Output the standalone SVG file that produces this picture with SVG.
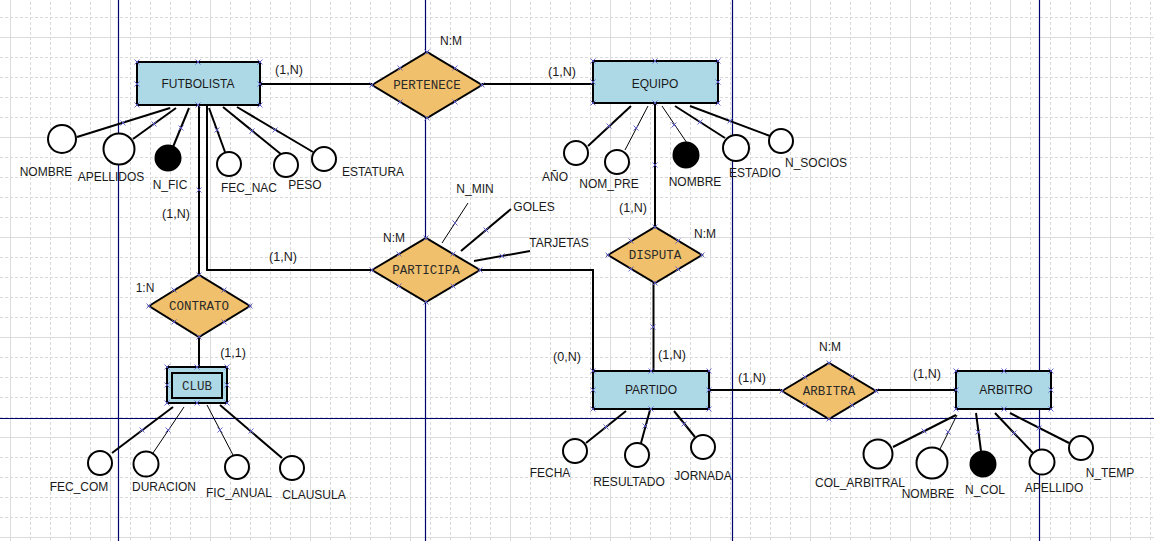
<svg xmlns="http://www.w3.org/2000/svg" xmlns:xlink="http://www.w3.org/1999/xlink" width="1154" height="541" viewBox="0 0 1154 541">
<style>
.ent{fill:#add8e6;stroke:#000;stroke-width:2}
.rel{fill:#f0c06c;stroke:#000;stroke-width:2}
.att{fill:#fff;stroke:#000;stroke-width:2}
.key{fill:#000;stroke:#000;stroke-width:2}
.ln{fill:none;stroke:#000;stroke-width:2}
.thin{fill:none;stroke:#000;stroke-width:1}
.page{stroke:#00006e;stroke-width:1.2;fill:none}
text{font-family:"Liberation Sans",Arial,sans-serif;font-size:12px;fill:#1a1a1a;text-anchor:middle}
.rt{font-family:"Liberation Mono","Courier New",monospace;font-size:12.5px;fill:#2a2a2a}
.card{font-size:12.5px}
.hx{stroke:#5a5ac8;stroke-width:0.9;fill:none}
</style>
<defs>
<pattern id="minor" patternUnits="userSpaceOnUse" x="10" y="17" width="20" height="20">
<path d="M0 0.5 H20 M0.5 0 V20" stroke="#d9d9d9" stroke-width="1" stroke-dasharray="3 2" fill="none"/>
</pattern>
<pattern id="major" patternUnits="userSpaceOnUse" x="10" y="37" width="100" height="100">
<path d="M0 0.5 H100 M0.5 0 V100" stroke="#dcdcdc" stroke-width="1" fill="none"/>
</pattern>
<path id="x" class="hx" d="M-2.5 -2.5 L2.5 2.5 M-2.5 2.5 L2.5 -2.5"/>
</defs>
<rect width="1154" height="541" fill="#fff"/>
<rect width="1154" height="541" fill="url(#minor)"/>
<rect width="1154" height="541" fill="url(#major)"/>
<g id="page-breaks" class="page">
<path d="M118.5 0 V541 M425.5 0 V541 M732.5 0 V541 M1039.5 0 V541 M0 418.5 H1154"/>
</g>

<g id="connectors">
<path class="ln" d="M260 84 H372"/>
<path class="ln" d="M482 84 H593"/>
<path class="ln" d="M199 105 V275"/>
<path class="ln" d="M207 105 V270 H372"/>
<path class="ln" d="M199 337 V367"/>
<path class="ln" d="M480 270 H593 V371"/>
<path class="ln" d="M655 103 V227"/>
<path class="ln" d="M653.5 283 V371"/>
<path class="ln" d="M709 390 H782"/>
<path class="ln" d="M876 390 H956"/>
<!-- FUTBOLISTA attributes -->
<path class="ln" d="M77 137 L170 108"/>
<path class="ln" d="M133 139 L176 108"/>
<path class="ln" d="M173 147 L189 108"/>
<path class="ln" d="M225 152 L209 108"/>
<path class="ln" d="M282 155 L223 107"/>
<path class="ln" d="M313 152 L237 107"/>
<!-- EQUIPO attributes -->
<path class="ln" d="M588 146 L631 106"/>
<path class="thin" d="M625 150 L648 106"/>
<path class="thin" d="M687 143 L662 106"/>
<path class="ln" d="M725 138 L675 106"/>
<path class="ln" d="M770 136 L690 106"/>
<!-- PARTICIPA attributes -->
<path class="thin" d="M442 243 L468 203"/>
<path class="ln" d="M461 251 L511 209"/>
<path class="ln" d="M474 261 L530 251"/>
<!-- CLUB attributes -->
<path class="ln" d="M112 453 L173 407"/>
<path class="thin" d="M153 453 L184 407"/>
<path class="thin" d="M233 455 L207 405"/>
<path class="ln" d="M282 458 L220 405"/>
<!-- PARTIDO attributes -->
<path class="ln" d="M586 443 L626 411"/>
<path class="ln" d="M641 443 L650 410"/>
<path class="ln" d="M695 437 L674 411"/>
<!-- ARBITRO attributes -->
<path class="ln" d="M893 447 L956 415"/>
<path class="thin" d="M940 449 L957 415"/>
<path class="ln" d="M981 451 L976 413"/>
<path class="ln" d="M1033 453 L995 413"/>
<path class="ln" d="M1069 443 L1010 413"/>
</g>

<g id="cardinalities">
<text class="card" x="289" y="74">(1,N)</text>
<text class="card" x="562" y="76">(1,N)</text>
<text x="451" y="45">N:M</text>
<text class="card" x="176" y="218">(1,N)</text>
<text class="card" x="283" y="261">(1,N)</text>
<text x="145" y="292">1:N</text>
<text class="card" x="233" y="357">(1,1)</text>
<text x="394" y="242">N:M</text>
<text class="card" x="567" y="361">(0,N)</text>
<text class="card" x="633" y="212">(1,N)</text>
<text x="705" y="238">N:M</text>
<text class="card" x="672" y="359">(1,N)</text>
<text class="card" x="752" y="382">(1,N)</text>
<text x="830" y="351">N:M</text>
<text class="card" x="927" y="378">(1,N)</text>
</g>

<!-- Entities -->
<g id="futbolista">
<rect class="ent" x="137" y="62" width="123" height="43"/>
<text x="198" y="88">FUTBOLISTA</text>
</g>
<g id="equipo">
<rect class="ent" x="593" y="61" width="125" height="42"/>
<text x="655" y="88">EQUIPO</text>
</g>
<g id="partido">
<rect class="ent" x="593" y="371" width="116" height="38"/>
<text x="651" y="394">PARTIDO</text>
</g>
<g id="arbitro">
<rect class="ent" x="956" y="371" width="95" height="38"/>
<text x="1006" y="394">ARBITRO</text>
</g>
<g id="club">
<rect class="ent" x="167" y="367" width="60" height="36"/>
<rect class="ent" x="172" y="373" width="50" height="25"/>
<text class="rt" x="197" y="390">CLUB</text>
</g>

<!-- Relationships -->
<g id="pertenece">
<polygon class="rel" points="372,85 427,52 482,85 427,118"/>
<text class="rt" x="427" y="89">PERTENECE</text>
</g>
<g id="contrato">
<polygon class="rel" points="149,306 199,275 250,306 199,337"/>
<text class="rt" x="199" y="310">CONTRATO</text>
</g>
<g id="participa">
<polygon class="rel" points="372,270 426,238 480,270 426,302"/>
<text class="rt" x="426" y="274">PARTICIPA</text>
</g>
<g id="disputa">
<polygon class="rel" points="608,255 655,227 702,255 655,283"/>
<text class="rt" x="655" y="259">DISPUTA</text>
</g>
<g id="arbitra">
<polygon class="rel" points="782,391 829,363 876,391 829,419"/>
<text class="rt" x="829" y="395">ARBITRA</text>
</g>

<!-- FUTBOLISTA attributes -->
<g id="fut-nombre"><circle class="att" cx="62" cy="139" r="14"/><text x="46" y="176">NOMBRE</text></g>
<g id="fut-apellidos"><circle class="att" cx="119" cy="149" r="15.5"/><text x="111" y="181">APELLIDOS</text></g>
<g id="fut-nfic"><circle class="key" cx="168" cy="158" r="12.5"/><text x="170" y="189">N_FIC</text></g>
<g id="fut-fecnac"><circle class="att" cx="229" cy="164" r="12"/><text x="249" y="192">FEC_NAC</text></g>
<g id="fut-peso"><circle class="att" cx="286" cy="165" r="12"/><text x="305" y="189">PESO</text></g>
<g id="fut-estatura"><circle class="att" cx="324" cy="159" r="12"/><text x="373" y="176">ESTATURA</text></g>

<!-- EQUIPO attributes -->
<g id="eq-anio"><circle class="att" cx="576" cy="153" r="12"/><text x="555" y="181">AÑO</text></g>
<g id="eq-nompre"><circle class="att" cx="617" cy="162" r="12"/><text x="609" y="188">NOM_PRE</text></g>
<g id="eq-nombre"><circle class="key" cx="686" cy="155" r="12.5"/><text x="695" y="186">NOMBRE</text></g>
<g id="eq-estadio"><circle class="att" cx="736" cy="148" r="13"/><text x="755" y="177">ESTADIO</text></g>
<g id="eq-nsocios"><circle class="att" cx="781" cy="141" r="12"/><text x="816" y="167">N_SOCIOS</text></g>

<!-- PARTICIPA attributes -->
<g id="par-nmin"><text x="475" y="193">N_MIN</text></g>
<g id="par-goles"><text x="534" y="211">GOLES</text></g>
<g id="par-tarjetas"><text x="559" y="247">TARJETAS</text></g>

<!-- CLUB attributes -->
<g id="club-feccom"><circle class="att" cx="100" cy="463" r="12"/><text x="79" y="491">FEC_COM</text></g>
<g id="club-duracion"><circle class="att" cx="146" cy="464" r="12.5"/><text x="164" y="491">DURACION</text></g>
<g id="club-ficanual"><circle class="att" cx="237" cy="467" r="12"/><text x="239" y="497">FIC_ANUAL</text></g>
<g id="club-clausula"><circle class="att" cx="292" cy="468" r="12"/><text x="314" y="499">CLAUSULA</text></g>

<!-- PARTIDO attributes -->
<g id="pt-fecha"><circle class="att" cx="575" cy="451" r="12"/><text x="550" y="477">FECHA</text></g>
<g id="pt-resultado"><circle class="att" cx="637" cy="455" r="12"/><text x="629" y="486">RESULTADO</text></g>
<g id="pt-jornada"><circle class="att" cx="703" cy="447" r="12"/><text x="703" y="480">JORNADA</text></g>

<!-- ARBITRO attributes -->
<g id="ar-colarbitral"><circle class="att" cx="878" cy="454" r="14.5"/><text x="860" y="487">COL_ARBITRAL</text></g>
<g id="ar-nombre"><circle class="att" cx="932" cy="463" r="15.5"/><text x="928" y="498">NOMBRE</text></g>
<g id="ar-ncol"><circle class="key" cx="983" cy="464" r="12.5"/><text x="985" y="494">N_COL</text></g>
<g id="ar-apellido"><circle class="att" cx="1042" cy="462" r="12.5"/><text x="1054" y="492">APELLIDO</text></g>
<g id="ar-ntemp"><circle class="att" cx="1081" cy="448" r="12"/><text x="1110" y="477">N_TEMP</text></g>

<!-- selection handles -->
<g id="handles">
<use href="#x" x="137" y="62"/><use href="#x" x="198" y="62"/><use href="#x" x="260" y="62"/><use href="#x" x="137" y="84"/><use href="#x" x="260" y="84"/><use href="#x" x="137" y="105"/><use href="#x" x="198" y="105"/><use href="#x" x="260" y="105"/>
<use href="#x" x="593" y="61"/><use href="#x" x="655" y="61"/><use href="#x" x="718" y="61"/><use href="#x" x="593" y="82"/><use href="#x" x="718" y="82"/><use href="#x" x="593" y="103"/><use href="#x" x="655" y="103"/><use href="#x" x="718" y="103"/>
<use href="#x" x="593" y="371"/><use href="#x" x="651" y="371"/><use href="#x" x="709" y="371"/><use href="#x" x="593" y="390"/><use href="#x" x="709" y="390"/><use href="#x" x="593" y="409"/><use href="#x" x="651" y="409"/><use href="#x" x="709" y="409"/>
<use href="#x" x="956" y="371"/><use href="#x" x="1004" y="371"/><use href="#x" x="1051" y="371"/><use href="#x" x="956" y="390"/><use href="#x" x="1051" y="390"/><use href="#x" x="956" y="409"/><use href="#x" x="1004" y="409"/><use href="#x" x="1051" y="409"/>
<use href="#x" x="167" y="367"/><use href="#x" x="197" y="367"/><use href="#x" x="227" y="367"/><use href="#x" x="167" y="385"/><use href="#x" x="227" y="385"/><use href="#x" x="167" y="403"/><use href="#x" x="197" y="403"/><use href="#x" x="227" y="403"/>
<use href="#x" x="372" y="85"/><use href="#x" x="427" y="52"/><use href="#x" x="482" y="85"/><use href="#x" x="427" y="118"/><use href="#x" x="400" y="68"/><use href="#x" x="455" y="68"/><use href="#x" x="400" y="102"/><use href="#x" x="455" y="102"/>
<use href="#x" x="149" y="306"/><use href="#x" x="199" y="275"/><use href="#x" x="250" y="306"/><use href="#x" x="199" y="337"/><use href="#x" x="174" y="290"/><use href="#x" x="224" y="290"/><use href="#x" x="174" y="322"/><use href="#x" x="224" y="322"/>
<use href="#x" x="372" y="270"/><use href="#x" x="426" y="238"/><use href="#x" x="480" y="270"/><use href="#x" x="426" y="302"/><use href="#x" x="399" y="254"/><use href="#x" x="453" y="254"/><use href="#x" x="399" y="286"/><use href="#x" x="453" y="286"/>
<use href="#x" x="608" y="255"/><use href="#x" x="655" y="227"/><use href="#x" x="702" y="255"/><use href="#x" x="655" y="283"/><use href="#x" x="631" y="241"/><use href="#x" x="678" y="241"/><use href="#x" x="631" y="269"/><use href="#x" x="678" y="269"/>
<use href="#x" x="782" y="391"/><use href="#x" x="829" y="363"/><use href="#x" x="876" y="391"/><use href="#x" x="829" y="419"/><use href="#x" x="805" y="377"/><use href="#x" x="852" y="377"/><use href="#x" x="805" y="405"/><use href="#x" x="852" y="405"/>
<use href="#x" x="123" y="123"/><use href="#x" x="154" y="124"/><use href="#x" x="181" y="128"/><use href="#x" x="217" y="130"/><use href="#x" x="252" y="131"/><use href="#x" x="275" y="130"/>
<use href="#x" x="609" y="126"/><use href="#x" x="636" y="128"/><use href="#x" x="674" y="125"/><use href="#x" x="700" y="122"/><use href="#x" x="730" y="121"/>
<use href="#x" x="455" y="223"/><use href="#x" x="486" y="230"/><use href="#x" x="502" y="256"/>
<use href="#x" x="142" y="430"/><use href="#x" x="168" y="430"/><use href="#x" x="220" y="430"/><use href="#x" x="251" y="431"/>
<use href="#x" x="606" y="427"/><use href="#x" x="645" y="426"/><use href="#x" x="684" y="424"/>
<use href="#x" x="924" y="431"/><use href="#x" x="948" y="432"/><use href="#x" x="978" y="432"/><use href="#x" x="1014" y="433"/><use href="#x" x="1039" y="428"/>
<use href="#x" x="199" y="190"/><use href="#x" x="655" y="165"/><use href="#x" x="653" y="327"/>
</g>
</svg>
